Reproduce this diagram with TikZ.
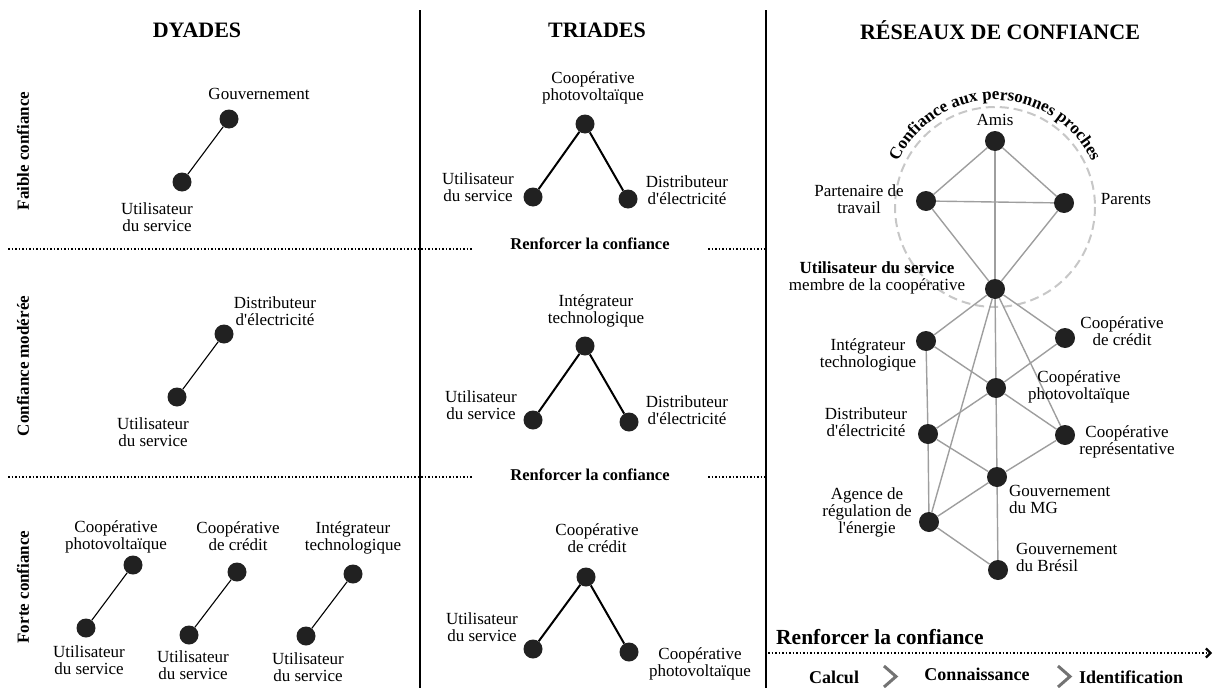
\documentclass[tikz,border=0pt]{standalone}
\usepackage{fontspec}
\setmainfont{Liberation Serif}
\usetikzlibrary{decorations.text,arrows.meta}
\newcommand{\apos}{\XeTeXglyph\XeTeXglyphindex "quotesingle"\relax}
\begin{document}
\begin{tikzpicture}[x=1pt,y=-1pt,
  dot/.style={circle,fill=black!87,inner sep=0pt,minimum size=19pt},
  ndot/.style={circle,fill=black!87,inner sep=0pt,minimum size=20pt},
  lbl/.style={align=center,inner sep=0pt,font=\fontsize{17}{17}\selectfont},
  head/.style={inner sep=0pt,font=\bfseries\fontsize{22}{22}\selectfont},
  side/.style={inner sep=0pt,rotate=90,font=\bfseries\fontsize{17}{17}\selectfont},
  mid/.style={inner sep=0pt,font=\bfseries\fontsize{16.5}{16.5}\selectfont},
  stage/.style={inner sep=0pt,font=\bfseries\fontsize{18}{18}\selectfont},
  sep/.style={line width=2pt,black},
  dots/.style={line width=1.6pt,dash pattern=on 1.6pt off 1.9pt},
  dl/.style={line width=1.1pt,black},
  tl/.style={line width=2pt,black},
  nl/.style={line width=1.4pt,black!38},
  chev/.style={line width=3pt,black!55}]
\useasboundingbox (0,0) rectangle (1216,688);

% separators
\coordinate (v1t) at (420,10); \coordinate (v1b) at (420,688);
\coordinate (v2t) at (766,10); \coordinate (v2b) at (766,688);
\draw[sep] (v1t)--(v1b);
\draw[sep] (v2t)--(v2b);
\coordinate (h1a) at (8,249); \coordinate (h1b) at (472,249);
\coordinate (h1c) at (708,249); \coordinate (h1d) at (766,249);
\coordinate (h2a) at (8,477); \coordinate (h2b) at (473,477);
\coordinate (h2c) at (708,477); \coordinate (h2d) at (766,477);
\draw[dots] (h1a)--(h1b); \draw[dots] (h1c)--(h1d);
\draw[dots] (h2a)--(h2b); \draw[dots] (h2c)--(h2d);

% headers
\node[head] (hd) at (197,30) {DYADES};
\node[head] (ht) at (597,30) {TRIADES};
\node[head] (hr) at (1000,30) {RÉSEAUX DE CONFIANCE};
\node[side] (s1) at (23,151) {Faible confiance};
\node[side] (s2) at (23,366) {Confiance modérée};
\node[side] (s3) at (23,587) {Forte confiance};
\node[mid] (r1) at (590,244) {Renforcer la confiance};
\node[mid] (r2) at (590,475) {Renforcer la confiance};

% dyads row 1
\node[dot] (d1a) at (229,119) {};
\node[dot] (d1b) at (182,182) {};
\draw[dl] (d1a)--(d1b);
\node[lbl] (d1al) at (259,94) {Gouvernement};
\node[lbl] (d1bl) at (157,217) {Utilisateur\\du service};
% dyads row 2
\node[dot] (d2a) at (224,334) {};
\node[dot] (d2b) at (177,397) {};
\draw[dl] (d2a)--(d2b);
\node[lbl] (d2al) at (275,311) {Distributeur\\d\apos électricité};
\node[lbl] (d2bl) at (153,432) {Utilisateur\\du service};
% dyads row 3
\node[dot] (d3a) at (133,565) {};
\node[dot] (d3b) at (86,628) {};
\draw[dl] (d3a)--(d3b);
\node[lbl] (d3al) at (116,537) {Coopérative\\photovoltaïque};
\node[lbl] (d3bl) at (89,660) {Utilisateur\\du service};
\node[dot] (d4a) at (237,572) {};
\node[dot] (d4b) at (189,635) {};
\draw[dl] (d4a)--(d4b);
\node[lbl] (d4al) at (238,536) {Coopérative\\de crédit};
\node[lbl] (d4bl) at (193,665) {Utilisateur\\du service};
\node[dot] (d5a) at (353,574) {};
\node[dot] (d5b) at (306,636) {};
\draw[dl] (d5a)--(d5b);
\node[lbl] (d5al) at (353,538) {Intégrateur\\technologique};
\node[lbl] (d5bl) at (308,667) {Utilisateur\\du service};

% triads
\node[dot] (t1t) at (585,124) {};
\node[dot] (t1l) at (533,197) {};
\node[dot] (t1r) at (628,199) {};
\draw[tl] (t1l)--(t1t)--(t1r);
\node[lbl] (t1tl) at (593,88) {Coopérative\\photovoltaïque};
\node[lbl] (t1ll) at (478,187) {Utilisateur\\du service};
\node[lbl] (t1rl) at (687,190) {Distributeur\\d\apos électricité};

\node[dot] (t2t) at (585,346) {};
\node[dot] (t2l) at (533,420) {};
\node[dot] (t2r) at (629,422) {};
\draw[tl] (t2l)--(t2t)--(t2r);
\node[lbl] (t2tl) at (596,311) {Intégrateur\\technologique};
\node[lbl] (t2ll) at (481,405) {Utilisateur\\du service};
\node[lbl] (t2rl) at (687,410) {Distributeur\\d\apos électricité};

\node[dot] (t3t) at (586,577) {};
\node[dot] (t3l) at (533,649) {};
\node[dot] (t3r) at (629,652) {};
\draw[tl] (t3l)--(t3t)--(t3r);
\node[lbl] (t3tl) at (597,538) {Coopérative\\de crédit};
\node[lbl] (t3ll) at (482,627) {Utilisateur\\du service};
\node[lbl] (t3rl) at (700,664) {Coopérative\\photovoltaïque};

% network
\coordinate (cc) at (995,207);
\draw[line width=2pt,black!22,dash pattern=on 9pt off 5pt] (cc) circle[radius=100];
\path[decorate,decoration={text along path,text align=center,
  text={|\bfseries\fontsize{17}{17}\selectfont|Confiance aux personnes proches}}]
  (cc) ++(-164:107) arc[start angle=-164,end angle=-16,radius=107];

\node[ndot] (amis) at (995,141) {};
\node[ndot] (part) at (926,201) {};
\node[ndot] (par) at (1064,203) {};
\node[ndot] (util) at (995,289) {};
\node[ndot] (integ) at (926,341) {};
\node[ndot] (cred) at (1065,338) {};
\node[ndot] (photo) at (996,388) {};
\node[ndot] (dist) at (928,434) {};
\node[ndot] (rep) at (1065,435) {};
\node[ndot] (gmg) at (997,477) {};
\node[ndot] (ag) at (929,522) {};
\node[ndot] (gbr) at (998,570) {};

\draw[nl] (amis)--(part);
\draw[nl] (amis)--(par);
\draw[nl] (amis)--(util);
\draw[nl] (part)--(par);
\draw[nl] (part)--(util);
\draw[nl] (par)--(util);
\draw[nl] (util)--(integ);
\draw[nl] (util)--(cred);
\draw[nl] (util)--(photo);
\draw[nl] (util)--(rep);
\draw[nl] (util)--(ag);
\draw[nl] (integ)--(photo);
\draw[nl] (integ)--(dist);
\draw[nl] (cred)--(photo);
\draw[nl] (photo)--(dist);
\draw[nl] (photo)--(rep);
\draw[nl] (photo)--(gmg);
\draw[nl] (dist)--(gmg);
\draw[nl] (dist)--(ag);
\draw[nl] (rep)--(gmg);
\draw[nl] (gmg)--(ag);
\draw[nl] (gmg)--(gbr);
\draw[nl] (ag)--(gbr);

\node[lbl] (amisl) at (995,120) {Amis};
\node[lbl] (partl) at (859,199) {Partenaire de\\travail};
\node[lbl] (parl) at (1126,199) {Parents};
\node[lbl] (utill) at (877,278) {\textbf{Utilisateur du service}\\membre de la coopérative};
\node[lbl] (integl) at (868,355) {Intégrateur\\technologique};
\node[lbl] (credl) at (1122,331) {Coopérative\\de crédit};
\node[lbl] (photol) at (1079,387) {Coopérative\\photovoltaïque};
\node[lbl] (distl) at (866,422) {Distributeur\\d\apos électricité};
\node[lbl] (repl) at (1127,442) {Coopérative\\représentative};
\node[lbl,align=left,anchor=west] (gmgl) at (1009,499) {Gouvernement\\du MG};
\node[lbl] (agl) at (867,512) {Agence de\\régulation de\\l\apos énergie};
\node[lbl,align=left,anchor=west] (gbrl) at (1016,557) {Gouvernement\\du Brésil};

% bottom arrow
\node[inner sep=0pt,anchor=west,font=\bfseries\fontsize{21.5}{21.5}\selectfont] (rb) at (776,637) {Renforcer la confiance};
\coordinate (aa) at (768,653); \coordinate (ab) at (1212,653);
\draw[dots,-{Straight Barb[length=4.5pt,width=9pt,line width=2.2pt]}] (aa)--(ab);
\node[stage] (calc) at (834,677) {Calcul};
\node[stage] (conn) at (977,674) {Connaissance};
\node[stage] (iden) at (1131,677) {Identification};
\coordinate (c1a) at (884,666); \coordinate (c1b) at (896,676.5); \coordinate (c1c) at (884,687);
\coordinate (c2a) at (1058,666); \coordinate (c2b) at (1070,676.5); \coordinate (c2c) at (1058,687);
\draw[chev] (c1a)--(c1b)--(c1c);
\draw[chev] (c2a)--(c2b)--(c2c);
\end{tikzpicture}
\end{document}
